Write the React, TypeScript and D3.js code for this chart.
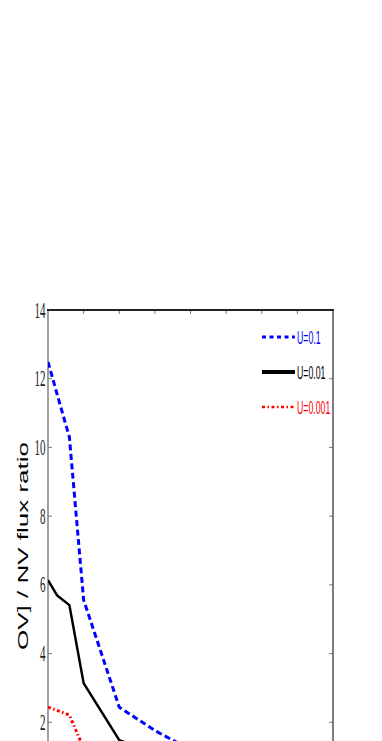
import React from 'react';
import * as d3 from 'd3';

const xValues = [0, 0.25, 0.6, 1, 2, 3, 4, 5, 6, 7, 8];
const seriesU01 = [12.49, 11.57, 10.3, 5.56, 2.44, 1.76, 1.2, 1.0, 0.9, 0.85, 0.8];
const seriesU001 = [6.14, 5.7, 5.41, 3.14, 1.48, 1.1, 0.9, 0.8, 0.7, 0.65, 0.6];
const seriesU0001 = [2.44, 2.35, 2.21, 1.25, 0.7, 0.5, 0.4, 0.35, 0.3, 0.28, 0.26];
const legendLabels = ['U=0.1', 'U=0.01', 'U=0.001'];
const yTicks = [0, 2, 4, 6, 8, 10, 12, 14];
const xTicks = [0, 1, 2, 3, 4, 5, 6, 7, 8];
const yLabel = 'OV] / NV flux ratio';

const W = 382;
const H = 800;
const L = 48;
const R = 333;
const T = 310;
const B = 791;

export default function App() {
  const x = d3.scaleLinear().domain([0, 8]).range([L, R]);
  const y = d3.scaleLinear().domain([0, 14]).range([B, T]);
  const line = d3
    .line<number>()
    .x((_, i) => x(xValues[i]))
    .y((d) => y(d));

  const series = [
    { vals: seriesU01, color: '#0000ff', width: 3, dash: '6,3.5', lw: 3, ldash: '4,3.5' },
    { vals: seriesU001, color: '#000000', width: 2.5, dash: undefined, lw: 4, ldash: undefined },
    { vals: seriesU0001, color: '#ff0000', width: 3, dash: '3,2.5,1.5,2.5', lw: 2.5, ldash: '3,2.5,1.5,2.5' },
  ];
  const legendY = [337, 372, 407];

  return (
    <svg
      width={W}
      height={H}
      style={{ position: 'absolute', left: 0, top: 0, display: 'block' }}
    >
      <rect x={0} y={0} width={W} height={H} fill="#fff" />
      <defs>
        <clipPath id="plot">
          <rect x={L} y={T} width={R - L} height={B - T} />
        </clipPath>
      </defs>
      {xTicks.slice(1, -1).map((t) => (
        <g key={'xt' + t}>
          <line x1={x(t)} x2={x(t)} y1={T} y2={T + 4} stroke="#777" strokeWidth={1} />
          <line x1={x(t)} x2={x(t)} y1={B} y2={B - 4} stroke="#777" strokeWidth={1} />
        </g>
      ))}
      {yTicks.map((t) => (
        <g key={'yt' + t}>
          <line x1={L} x2={L + 4} y1={y(t)} y2={y(t)} stroke="#777" strokeWidth={1} />
          <line x1={R} x2={R - 4} y1={y(t)} y2={y(t)} stroke="#777" strokeWidth={1} />
          <text
            transform={`translate(45.5,${y(t) + 7.5}) scale(0.46,1)`}
            textAnchor="end"
            fontFamily="'Liberation Serif', 'DejaVu Serif', serif"
            fontSize={24}
            fill="#222"
          >
            {t}
          </text>
        </g>
      ))}
      <line x1={L} x2={L} y1={T} y2={B} stroke="#808080" strokeWidth={1.5} />
      <line x1={R} x2={R} y1={T} y2={B} stroke="#555" strokeWidth={1.5} />
      <line x1={L - 1} x2={R + 1} y1={T} y2={T} stroke="#222" strokeWidth={2} />
      <line x1={L} x2={R} y1={B} y2={B} stroke="#222" strokeWidth={2} />
      <g clipPath="url(#plot)">
        {series.map((s, i) => (
          <path
            key={'s' + i}
            d={line(s.vals) || ''}
            fill="none"
            stroke={s.color}
            strokeWidth={s.width}
            strokeDasharray={s.dash}
            strokeLinejoin="round"
          />
        ))}
      </g>
      {series.map((s, i) => (
        <g key={'lg' + i}>
          <line
            x1={262}
            x2={295}
            y1={legendY[i]}
            y2={legendY[i]}
            stroke={s.color}
            strokeWidth={s.lw}
            strokeDasharray={s.ldash}
          />
          <text
            transform={`translate(297,${legendY[i] + 7}) scale(0.46,1)`}
            fontFamily="'Liberation Sans', Arial, sans-serif"
            fontSize={19}
            fill={s.color}
          >
            {legendLabels[i]}
          </text>
        </g>
      ))}
      <text
        transform={`translate(27.5,546) rotate(-90)`}
        textAnchor="middle"
        fontFamily="'Liberation Sans', Arial, sans-serif"
        fontSize={15}
        textLength={208}
        lengthAdjust="spacingAndGlyphs"
        fill="#000"
      >
        {yLabel}
      </text>
    </svg>
  );
}
